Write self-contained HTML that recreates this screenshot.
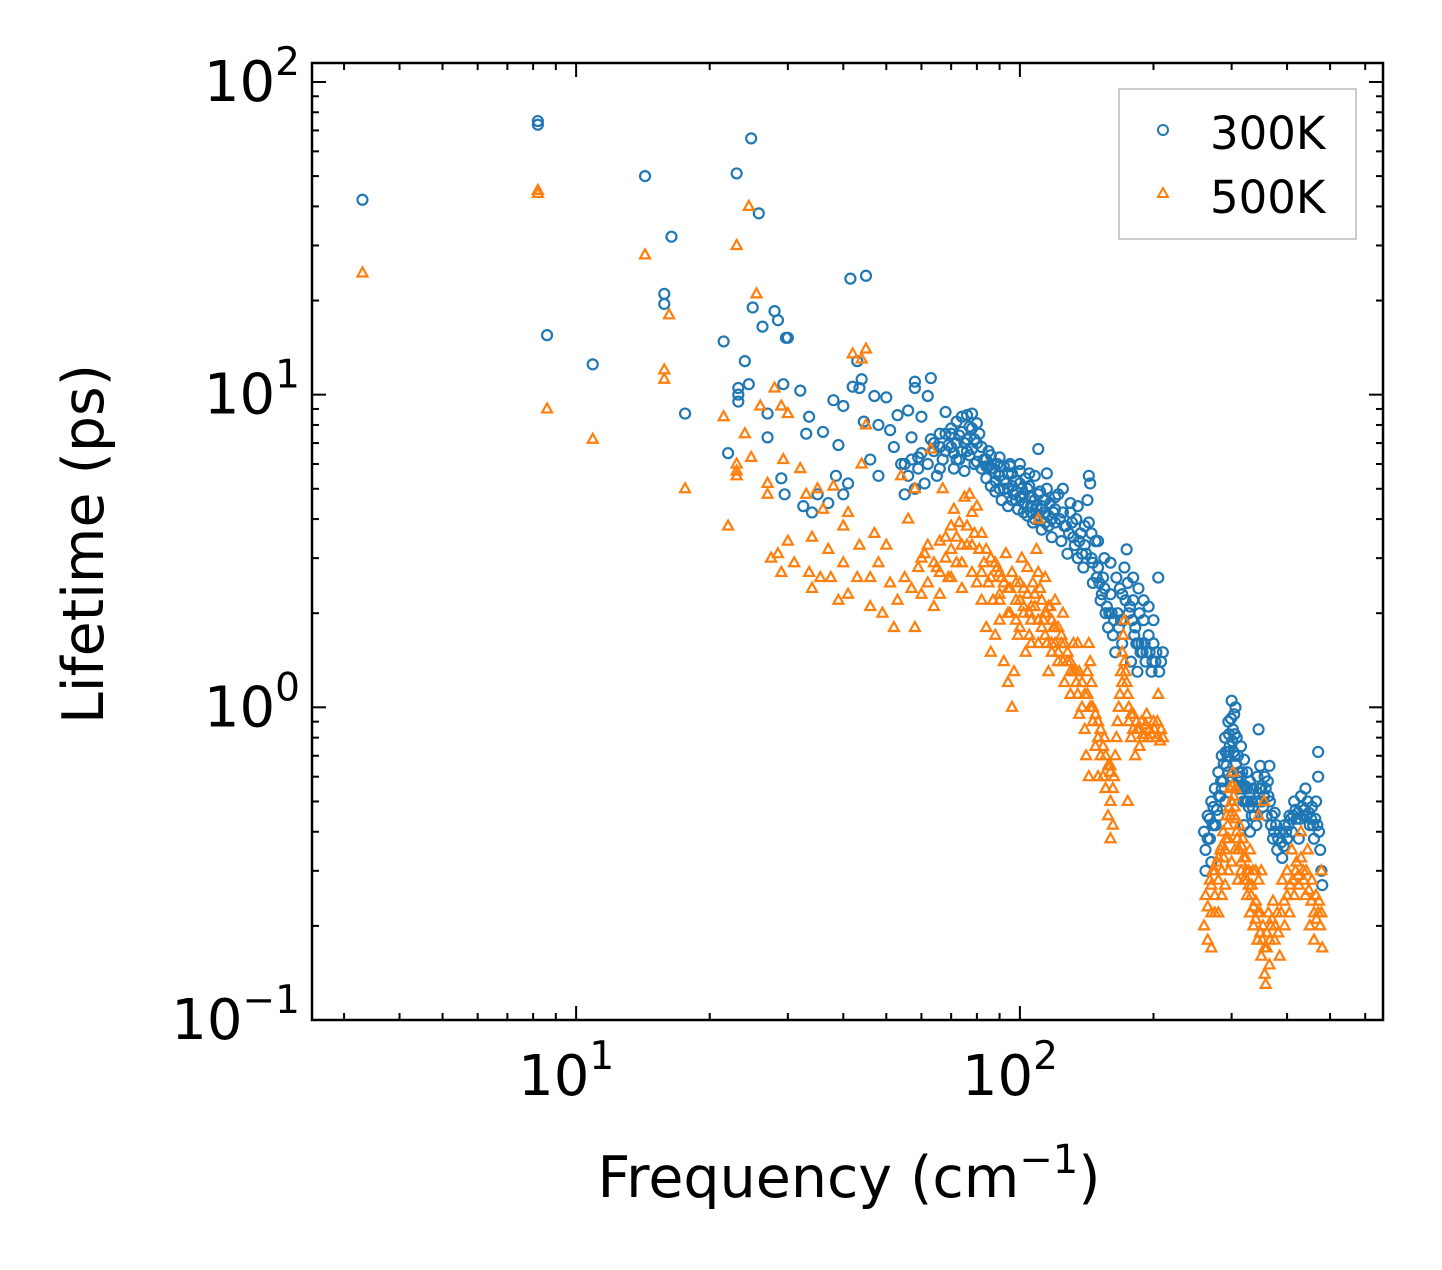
<!DOCTYPE html>
<html><head><meta charset="utf-8"><style>
html,body{margin:0;padding:0;background:#fff}
svg{display:block;font-family:"DejaVu Sans","Liberation Sans",sans-serif}
</style></head><body>
<svg id="chart" width="1442" height="1270" viewBox="0 0 1442 1270" xmlns="http://www.w3.org/2000/svg">
<rect width="1442" height="1270" fill="#fff"/>
<g id="marks"></g>
<g id="axes"></g>
<rect x="312" y="63" width="1071" height="957" fill="none" stroke="#000" stroke-width="2.5"/>
<text x="849" y="1197" font-size="57" text-anchor="middle">Frequency (cm<tspan font-size="40" dy="-24">−1</tspan><tspan dy="24">)</tspan></text>
<text transform="translate(103,544) rotate(-90)" font-size="57" text-anchor="middle">Lifetime (ps)</text>
<g>
<rect x="1119" y="89" width="237" height="150" fill="#fff" stroke="#bbb" stroke-width="1.5"/>
<circle cx="1163" cy="130" r="5" fill="none" stroke="#1f77b4" stroke-width="2"/>
<text x="1210" y="149" font-size="45">300K</text>
<polygon points="1163,188 1168,197 1158,197" fill="none" stroke="#ff7f0e" stroke-width="2"/>
<text x="1210" y="213" font-size="45">500K</text>
</g>
</svg>
<script>
const xTickValues=[10,100];
const xTickLabels=["10","10"];
const xTickExps=["1","2"];
const yTickValues=[0.1,1,10,100];
const yTickLabels=["10","10","10","10"];
const yTickExps=["−1","0","1","2"];
const series300K="3.3:42,8.2:75,8.2:73,8.6:15.5,10.9:12.5,14.3:50,16.4:32,15.8:21,15.8:19.5,17.6:8.7,21.5:14.8,22:6.5,23:51,23.2:10.5,23.2:10,23.2:9.5,24:12.8,24.5:10.8,24.8:66,25:19,25.8:38,26.3:16.5,27:7.3,27:8.7,28:18.5,28.5:17.3,29:5.4,29.3:10.8,29.7:15.2,30:15.2,29.5:4.8,32:10.3,32.5:4.4,33:7.5,33.5:8.5,34:4.2,35:4.8,36:7.6,37:4.5,38:9.6,38.5:5.5,39:6.9,40:4.8,40:9.2,41:5.2,41.5:23.5,42:10.6,43:12.8,43.5:10.5,44:11.2,44.5:8.2,45:24,46:6.2,47:9.9,48:5.5,48:8,50:9.8,51:7.7,52:6.8,53:8.6,54:6,55:4.8,56:8.9,57:7.3,58:11,58:10.5,59:6.3,60:8.5,62:9.9,63:11.3,64:7,66:5.8,68:8.8,70:7.5,55:6,56:5.5,57:6.2,58:5,59:5.8,60:6.5,61:5.2,62:6,63:7.2,64:6.6,65:5.5,66:6.8,67:6.2,68:7.5,69:6.9,70:7.8,71:6.5,72:8.2,73:7.4,74:8.5,75:7,76:8.6,77:7.9,78:8.7,79:7.2,80:8.1,71:5.8,73:6.2,75:5.7,77:6.4,79:6,81:7.5,83:6.2,84:5.4,85:6.6,86:5.1,87:5.8,88:4.9,89:6,90:5.5,91:4.6,92:5.9,93:5.2,94:4.4,95:6,96:5.6,97:4.8,98:5.3,99:4.3,100:5.7,101:5,102:4.5,103:5.4,104:4.1,105:5.1,106:4.7,107:3.9,108:5.5,109:4.4,110:6.7,111:4.9,112:3.7,113:4.6,114:4.2,115:5,116:3.8,117:4.5,118:3.5,119:4.2,120:3.9,122:4.8,124:3.4,125:4.2,127:3.8,128:3.1,130:4.5,132:3.5,134:4,135:3,137:3.6,139:2.8,140:3.3,142:4.6,143:5.5,144:5.2,145:3,146:2.5,148:3.4,150:2.8,152:2.2,154:2.6,156:2,158:1.8,160:2.3,162:1.7,164:1.5,166:2,168:2.4,170:1.6,172:2.8,174:3.2,175:2.5,176:2,178:1.4,180:2.2,182:1.8,184:1.3,186:2,188:1.6,190:1.9,192:1.4,195:1.7,198:1.3,200:1.6,203:1.5,205:2.6,208:1.4,210:1.5,90:6.3,95:5.9,85:5.9,100:6,105:5.6,115:5.6,120:4.7,125:5,130:4.2,135:4.4,140:3.8,145:3.6,150:3.4,155:3,160:2.9,165:2.6,170:2.3,180:2.6,185:2.4,190:2.2,195:2.1,200:1.9,260:0.4,262:0.35,265:0.45,268:0.38,270:0.5,272:0.42,275:0.55,278:0.47,280:0.62,283:0.52,285:0.7,287:0.58,290:0.8,292:0.65,295:0.9,297:0.75,300:1.05,302:0.85,304:0.95,306:1,308:0.8,310:0.7,312:0.62,315:0.75,318:0.55,320:0.68,323:0.5,325:0.62,328:0.48,330:0.58,333:0.45,336:0.55,340:0.5,343:0.6,345:0.85,348:0.65,350:0.55,353:0.48,356:0.6,360:0.45,363:0.52,365:0.65,368:0.42,372:0.38,375:0.46,380:0.35,385:0.4,390:0.33,395:0.42,400:0.38,405:0.45,410:0.4,415:0.5,420:0.44,425:0.38,430:0.52,435:0.45,440:0.55,445:0.5,450:0.42,455:0.48,460:0.38,465:0.5,470:0.72,470:0.6,472:0.4,475:0.35,478:0.3,480:0.27,290:0.5,300:0.6,310:0.55,280:0.45,305:0.7,295:0.62,270:0.32,320:0.42,330:0.4,"+
"72:7,74:7.6,76:7.2,78:7.8,80:7,82:6.8,84:6.2,86:6.4,88:5.6,90:5.9,92:5.3,94:5.6,96:5.1,98:4.9,100:5.2,102:4.8,104:5,106:4.4,108:4.6,110:4.8,112:4.3,114:4.6,116:4.1,118:4,120:4.3,123:4,126:3.8,129:3.6,131:3.9,133:3.3,136:3.4,138:3.1,141:3.1,143:3.9,146:2.9,149:2.6,151:2.5,153:2.3,155:2.4,157:2.1,159:2,161:2,163:1.9,167:1.8,169:1.9,171:1.9,173:2.2,177:2.1,179:1.9,181:1.7,183:1.6,185:1.6,187:1.5,189:1.5,191:1.6,193:1.5,196:1.5,199:1.4,202:1.4,206:1.3,66:7.5,68:6.6,70:6.8,72:6.2,74:6.6,76:6.6,78:6.7,80:6.1,82:5.8,84:5.9,86:5.8,88:5.3,90:5,92:5,94:5,96:4.6,98:4.6,100:4.7,102:4.2,104:4.4,106:4.2,108:4,110:4.1,112:4.4,114:3.9,265:0.38,268:0.44,273:0.48,276:0.42,281:0.52,284:0.58,288:0.66,291:0.72,294:0.7,296:0.82,299:0.92,301:0.78,303:0.72,307:0.66,309:0.6,311:0.58,314:0.55,317:0.62,319:0.5,322:0.56,326:0.5,329:0.53,332:0.5,335:0.48,338:0.45,341:0.42,344:0.5,347:0.55,351:0.5,355:0.52,358:0.55,362:0.58,366:0.5,370:0.45,374:0.4,378:0.42,382:0.38,388:0.37,393:0.36,398:0.4,403:0.42,408:0.44,413:0.45,418:0.47,423:0.46,428:0.44,433:0.48,438:0.47,443:0.45,448:0.46,453:0.44,458:0.42,463:0.44,468:0.42,262:0.3,275:0.42,285:0.55,295:0.72,305:0.82,315:0.6,325:0.55";
const series500K="3.3:24.5,8.2:45,8.2:44,8.6:9,10.9:7.2,14.3:28,15.8:12,15.8:11.2,16.2:18,17.6:5,21.5:8.5,22:3.8,23:30,23:6,23:5.7,23:5.5,24:7.5,24.5:40,24.8:6.3,25.5:21,26:9.2,27:4.8,27:5.2,27.5:3,28:10.5,28.5:3.1,29:9.2,29:2.7,29.3:6.2,30:8.7,30:3.4,31:2.9,32:5.8,33:4.8,33.5:2.7,34:2.4,34:3.5,35:5,35.5:2.6,36:4.3,37:3.2,37.5:2.6,38:5.1,39:2.2,40:3.8,40:2.9,41:2.3,41:4.2,42:13.5,43:2.6,43.5:3.3,44:6,44:13,45:8,45:14,46:2.1,46:2.6,47:3.6,48:2.9,49:2,50:3.3,51:2.5,52:1.8,53:2.2,54:5.5,55:2.6,56:4,57:2.4,58:1.8,58:5,59:2.8,60:2.3,61:3.1,62:2.5,63:6.7,64:2.1,65:2.8,66:2.3,67:5,68:3.5,69:2.6,70:3.8,71:4.3,72:2.9,73:3.9,74:2.4,75:4.7,76:3.3,77:4.8,78:2.7,79:3.6,80:2.5,81:3.2,82:2.2,83:2.9,84:1.8,85:2.5,86:1.5,87:2.2,88:1.7,89:2.8,90:1.9,91:2.6,92:1.4,93:3.1,94:1.2,95:2.4,96:1,97:1.3,98:2.2,99:1.7,100:2.5,101:3,102:2.1,103:1.5,104:2.8,105:2,106:1.6,107:2.5,108:2.1,109:3.2,110:4,111:2.4,112:1.8,113:1.9,114:2.6,115:1.6,116:1.3,117:2.1,118:1.5,119:1.8,120:2.2,122:1.4,124:1.7,126:1.2,128:1.5,130:1.1,132:1.6,134:1.3,136:0.95,138:1.2,140:0.85,141:0.7,142:1.1,143:1.6,144:1.4,145:1.2,146:0.9,148:0.75,150:0.9,152:0.7,154:0.6,156:0.55,158:0.45,160:0.5,162:0.42,163:0.6,165:0.8,167:1,169:1.3,170:1.5,171:1.7,172:1.9,173:1.3,175:1.1,176:0.9,178:0.8,180:0.95,182:0.7,184:0.85,186:0.75,188:0.9,190:0.8,193:0.95,196:0.85,200:0.9,203:0.8,205:1.1,208:0.85,210:0.8,90:2.3,95:2,100:1.8,105:1.7,110:1.6,115:2,120:1.6,125:1.4,130:1.3,135:1.1,125:2,135:1.6,145:1,155:0.8,160:0.65,150:0.6,143:0.6,175:0.5,160:0.38,260:0.2,262:0.25,265:0.18,268:0.28,270:0.22,272:0.3,275:0.25,278:0.32,280:0.28,283:0.35,285:0.3,287:0.4,290:0.35,292:0.45,295:0.38,297:0.55,300:0.5,302:0.62,304:0.45,306:0.55,308:0.4,310:0.35,312:0.42,315:0.32,318:0.38,320:0.28,323:0.33,325:0.25,328:0.3,330:0.22,333:0.27,336:0.2,340:0.24,343:0.18,345:0.28,348:0.22,350:0.16,353:0.2,356:0.14,358:0.13,360:0.17,363:0.22,365:0.15,368:0.2,372:0.24,375:0.18,380:0.22,385:0.16,390:0.28,395:0.2,400:0.3,405:0.22,410:0.35,415:0.25,420:0.32,425:0.27,430:0.4,435:0.3,440:0.25,445:0.35,450:0.2,455:0.28,460:0.18,465:0.25,470:0.22,475:0.2,478:0.3,480:0.17,290:0.27,300:0.32,310:0.28,280:0.22,270:0.17,330:0.35,340:0.3,350:0.3,355:0.5,345:0.45,"+
"60:3,62:3.3,64:2.9,66:3.4,68:3,70:3.2,72:3.5,74:3.3,76:3.8,78:4.2,80:4.4,82:3.6,84:3.2,86:3,88:2.9,90:2.7,92:2.5,94:2.4,96:2.7,98:2.5,100:2.2,102:2.4,104:2.3,106:2.1,108:2.3,110:2.7,112:2.2,114:2,116:2.1,118:1.9,120:1.8,122:1.8,124:1.6,126:1.6,128:1.4,130:1.4,132:1.3,134:1.2,136:1.3,138:1,140:1.1,142:1.3,144:1,146:1,148:0.95,150:0.8,152:0.85,154:0.75,156:0.7,158:0.65,160:0.62,162:0.55,164:0.7,166:0.9,168:1.1,170:1.2,172:1.4,174:1.2,176:1,178:0.95,180:0.85,183:0.9,186:0.85,189:0.82,192:0.88,195:0.8,198:0.82,201:0.85,204:0.9,207:0.78,66:2.7,70:2.6,74:2.9,78:3.3,82:2.7,86:2.6,90:2.2,94:2,98:1.9,102:2,106:1.9,110:1.9,114:1.7,118:1.6,122:1.5,265:0.23,270:0.27,275:0.3,280:0.33,285:0.36,288:0.33,291:0.38,294:0.42,296:0.48,298:0.45,301:0.56,303:0.52,305:0.48,307:0.44,309:0.38,312:0.35,316:0.36,320:0.33,324:0.3,328:0.27,332:0.25,336:0.23,340:0.21,344:0.22,348:0.19,352:0.18,356:0.17,360:0.19,366:0.18,370:0.21,376:0.2,382:0.19,388:0.22,394:0.24,400:0.25,406:0.27,412:0.28,418:0.3,424:0.29,430:0.33,436:0.28,442:0.3,448:0.26,454:0.24,460:0.22,466:0.21,472:0.24,478:0.22,275:0.22,285:0.25,295:0.3,305:0.35,315:0.3,325:0.28,335:0.3";

const NS="http://www.w3.org/2000/svg";
const L=312,R=1383,T=63,B=1020;
const xMin=Math.log10(2.54),xMax=Math.log10(658),yMin=-1,yMax=2.0607;
function sx(v){return L+(Math.log10(v)-xMin)/(xMax-xMin)*(R-L);}
function sy(v){return B-(Math.log10(v)-yMin)/(yMax-yMin)*(B-T);}
function parse(s){return s.split(",").map(p=>p.split(":").map(Number));}
function mk(tag,a){const e=document.createElementNS(NS,tag);for(const k in a)e.setAttribute(k,a[k]);return e;}
const marks=document.getElementById("marks");
const g1=mk("g",{});


const g2=mk("g",{});


marks.appendChild(g1);marks.appendChild(g2);
parse(series300K).forEach(d=>{
  const c=mk("circle",{cx:sx(d[0]),cy:sy(d[1]),r:5,fill:"none",stroke:"#1f77b4","stroke-width":2.2});
  
  
  g1.appendChild(c);
});
parse(series500K).forEach(d=>{
  const x=sx(d[0]),y=sy(d[1]);
  const p=mk("polygon",{points:`${x},${y-5.5} ${x+5},${y+3.5} ${x-5},${y+3.5}`,fill:"none",stroke:"#ff7f0e","stroke-width":2.2});
  
  
  g2.appendChild(p);
});
const axes=document.getElementById("axes");
function line(x1,y1,x2,y2,name){const l=mk("line",{x1,y1,x2,y2,stroke:"#000","stroke-width":2});
  
  
  axes.appendChild(l);}
for(let d=1;d<=100;d*=10){for(let m=1;m<10;m++){const v=d*m;const x=sx(v);if(x<L||x>R)continue;const len=m===1?14:7;
  line(x,B,x,B-len,m===1?'x-major-tick':'x-minor-tick');line(x,T,x,T+len,m===1?'x-major-tick':'x-minor-tick');}}
for(let d=0.1;d<=100;d*=10){for(let m=1;m<10;m++){const v=d*m;const y=sy(v);if(y<T-0.5||y>B+0.5)continue;const len=m===1?14:7;
  line(L,y,L+len,y,m===1?'y-major-tick':'y-minor-tick');line(R,y,R-len,y,m===1?'y-major-tick':'y-minor-tick');}}
xTickValues.forEach((v,i)=>{const t=mk("text",{x:sx(v)-10,y:1095,"font-size":56,"text-anchor":"middle"});
  
  
  t.innerHTML=xTickLabels[i]+`<tspan font-size="39" dy="-26">${xTickExps[i]}</tspan>`;axes.appendChild(t);});
yTickValues.forEach((v,i)=>{const t=mk("text",{x:300,y:sy(v)+19,"font-size":56,"text-anchor":"end"});
  
  
  t.innerHTML=yTickLabels[i]+`<tspan font-size="39" dy="-26">${yTickExps[i]}</tspan>`;axes.appendChild(t);});
</script>
</body></html>
